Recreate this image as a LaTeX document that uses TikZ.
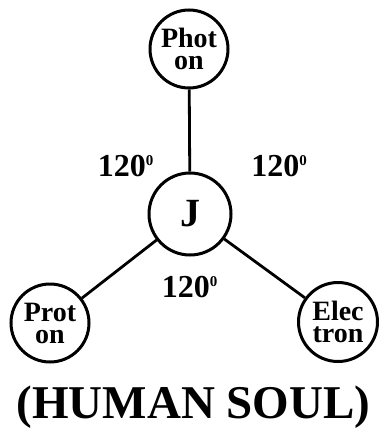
\documentclass[tikz,border=0pt]{standalone}
\usepackage{fontspec}
\setmainfont{Liberation Serif}
\newcommand{\mydegmark}{\raisebox{11.5pt}{\fontsize{15}{15}\selectfont 0}}
\begin{document}
\begin{tikzpicture}[x=1pt,y=-1pt,
  ball/.style={circle,draw,line width=3pt,inner sep=0pt,fill=white,align=center,
    font=\bfseries\fontsize{28}{22}\selectfont},
  link/.style={line width=2.8pt},
  ang/.style={font=\bfseries\fontsize{32}{32}\selectfont,inner sep=0pt}]
\useasboundingbox (0,0) rectangle (378,436);
\node[ball,minimum size=82pt] (j) at (190,214) {};
\node[ball,minimum size=78pt] (ph) at (189,49) {Phot\\on};
\node[ball,minimum size=78pt] (pr) at (50,323) {Prot\\on};
\node[ball,minimum size=79pt] (el) at (338,322) {Elec\\tron};
\draw[link] (j) -- (ph);
\draw[link] (j) -- (pr);
\draw[link] (j) -- (el);
\node[font=\bfseries\fontsize{40}{40}\selectfont,inner sep=0pt] (jl) at (j.center) {J};
\node[ang] (a1) at (125.5,166) {120\mydegmark};
\node[ang] (a2) at (279,166) {120\mydegmark};
\node[ang] (a3) at (189.5,287) {120\mydegmark};
\node[font=\bfseries\fontsize{47}{47}\selectfont,inner sep=0pt,anchor=base] (t) at (193.5,418) {(HUMAN SOUL)};
\end{tikzpicture}
\end{document}
